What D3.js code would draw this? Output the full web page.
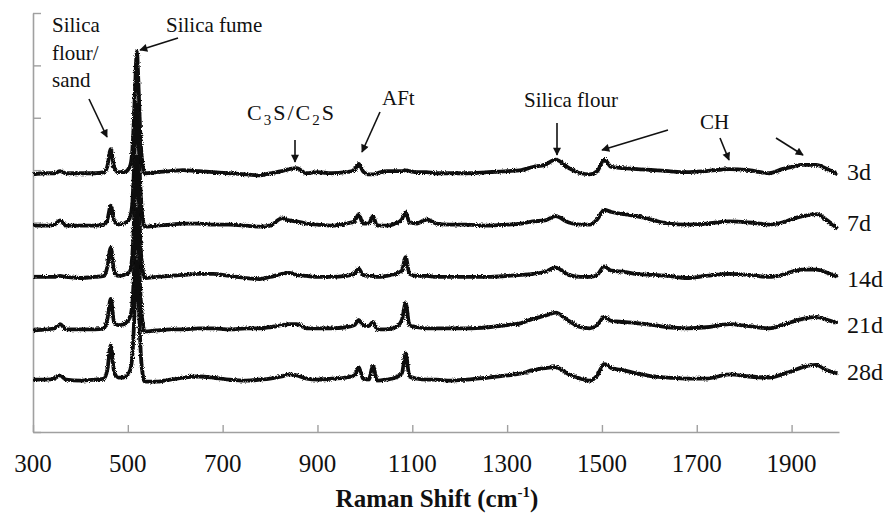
<!DOCTYPE html>
<html>
<head>
<meta charset="utf-8">
<script src="https://cdn.jsdelivr.net/npm/d3@7"></script>
<style>
  html, body { margin: 0; padding: 0; background: #fff; }
  svg { display: block; }
  text { font-family: "Liberation Serif", "Times New Roman", serif; fill: #111; }
</style>
</head>
<body>
<svg id="chart" width="892" height="513"></svg>
<script>
// ---- Data ----
const wavenumbers = [300,330,345,357,370,400,430,450,457,464,471,480,492,504,509,512,515,519,523,526,529,536,560,590,616,650,680,715,750,778,800,825,840,856,877,900,930,960,978,987,996,1008,1017,1026,1045,1065,1078,1086,1094,1110,1130,1150,1180,1215,1260,1300,1330,1354,1380,1402,1430,1455,1474,1490,1505,1520,1545,1573,1610,1640,1678,1720,1769,1810,1853,1880,1900,1923,1952,1975,1997];

const series3d = [-4,-3,-3,-1,-3,-3,-3,-2,4,20,3,-2,-2,3,16,40,75,113,75,38,14,-3,-2,-1,0,-1,-2,-3,-4,-5,-3,-1,1,2,-3,-2,-3,-2,0,6,-1,-4,-4,-3,-1,-1,-1,0,-1,-2,-2,-3,-3,-3,-2,-1,0,3,5,10,2,-3,-4,-1,10,3,2,1,0,-1,-2,-1,1,0,-3,1,3,5,5,1,-4];
const series7d = [-3,-3,-2,2,-3,-3,-3,-2,3,16,2,-2,-1,4,16,40,75,113,75,38,14,-4,-3,-2,-1,-1,-2,-2,-3,-4,-3,4,2,1,-1,-2,-3,-1,1,8,-1,-1,6,-3,-3,-1,3,10,0,-1,3,-1,-2,-2,-3,-2,-1,1,2,6,0,-2,-2,3,12,10,8,6,2,-1,-2,-1,1,0,-2,0,3,6,8,2,-6];
const series14d = [-2,-2,-2,-1,-2,-3,-2,-1,8,26,4,-1,0,3,16,40,75,113,75,38,14,-3,-2,-1,0,1,1,-1,-3,-4,-2,1,2,0,-1,-2,-2,-1,1,6,0,-1,-1,-2,-1,1,4,17,1,-1,-1,-2,-2,-2,-2,-1,0,1,3,7,0,-2,-2,0,8,4,3,1,0,-1,-3,-1,1,0,-2,0,3,5,5,2,-2];
const series21d = [-3,-2,-1,3,-2,-2,-2,-1,8,27,5,2,3,9,20,42,75,113,75,38,14,-4,-3,-2,-2,-1,-1,-2,-1,-1,0,2,3,3,-1,-1,-1,0,2,7,2,1,5,-2,-2,0,7,23,2,0,-1,-1,-1,-1,0,2,4,8,11,14,6,0,-1,2,10,6,5,4,2,0,-1,0,3,1,-1,2,5,8,10,7,4];
const series28d = [0,0,1,4,0,-1,0,1,10,33,8,2,2,8,20,42,75,113,75,38,14,-2,-2,0,2,3,2,0,-1,0,1,3,5,4,1,0,1,2,4,12,1,0,13,-1,0,2,6,25,3,1,0,0,-1,0,2,4,6,9,11,12,5,1,-1,4,15,11,9,6,3,2,1,1,5,3,2,5,8,12,14,9,6];

const seriesNames = ["3d","7d","14d","21d","28d"];
const seriesOffsets = [250, 200, 150, 100, 50];
const allSeries = [series3d, series7d, series14d, series21d, series28d];

const xTickValues = [300,500,700,900,1100,1300,1500,1700,1900];
const yTickValues = [0,50,100,150,200,250,300,350,400];
const xTitle = "Raman Shift (cm";

// ---- Layout ----
const svg = d3.select("#chart");
const plot = { left: 33, right: 839, top: 13, bottom: 432 };
const axisColor = "#a0a0a0";

const x = d3.scaleLinear().domain([300, 2000]).range([plot.left, plot.right]);
const y = d3.scaleLinear().domain([0, 400]).range([plot.bottom, plot.top]);

// roughness filter for spectra
const defs = svg.append("defs");
const f = defs.append("filter").attr("id", "rough")
  .attr("x", "-5%").attr("y", "-30%").attr("width", "110%").attr("height", "160%");
f.append("feTurbulence").attr("type", "fractalNoise").attr("baseFrequency", "1.1")
  .attr("numOctaves", 2).attr("seed", 4).attr("result", "noise");
f.append("feDisplacementMap").attr("in", "SourceGraphic").attr("in2", "noise")
  .attr("scale", 3.4).attr("xChannelSelector", "R").attr("yChannelSelector", "G");

defs.append("marker").attr("id", "arrow")
  .attr("viewBox", "0 0 10 10").attr("refX", 9).attr("refY", 5)
  .attr("markerWidth", 9).attr("markerHeight", 8)
  .attr("markerUnits", "userSpaceOnUse").attr("orient", "auto")
  .append("path").attr("d", "M0,0 L10,5 L0,10 Z").attr("fill", "#111");

// axes
const xAxis = d3.axisBottom(x).tickValues(xTickValues).tickSize(-7).tickFormat("").tickSizeOuter(0);
const gx = svg.append("g").attr("transform", `translate(0,${plot.bottom})`).call(xAxis);
gx.select(".domain").attr("stroke", axisColor).attr("stroke-width", 1.6);
gx.selectAll(".tick line").attr("stroke", axisColor).attr("stroke-width", 1.4);

const yAxis = d3.axisLeft(y).tickValues(yTickValues).tickSize(-8).tickFormat("").tickSizeOuter(0);
const gy = svg.append("g").attr("transform", `translate(${plot.left},0)`).call(yAxis);
gy.select(".domain").attr("stroke", axisColor).attr("stroke-width", 1.6);
gy.selectAll(".tick line").attr("stroke", axisColor).attr("stroke-width", 1.4);

// tick labels
svg.append("g").selectAll("text").data(xTickValues).join("text")
  .attr("x", d => x(d)).attr("y", 472)
  .attr("text-anchor", "middle").attr("font-size", 25)
  .text(d => d);

// x title
const tt = svg.append("text").attr("x", 437).attr("y", 507)
  .attr("text-anchor", "middle").attr("font-size", 25).attr("font-weight", "bold");
tt.append("tspan").text(xTitle);
tt.append("tspan").attr("font-size", 15).attr("dy", -10).text("-1");
tt.append("tspan").attr("dy", 10).text(")");

// spectra
const line = d3.line()
  .x((d, i) => x(wavenumbers[i]))
  .y(d => y(d))
  .curve(d3.curveMonotoneX);

allSeries.forEach((s, k) => {
  const vals = s.map(v => v + seriesOffsets[k]);
  svg.append("path").datum(vals)
    .attr("d", line)
    .attr("fill", "none")
    .attr("stroke", "#111")
    .attr("stroke-width", 3.8)
    .attr("stroke-linejoin", "round")
    .attr("filter", "url(#rough)");
});

// series labels
const labelBaselines = [180, 230.5, 287, 332.5, 380];
seriesNames.forEach((n, k) => {
  svg.append("text").attr("x", 847).attr("y", labelBaselines[k])
    .attr("font-size", 24).text(n);
});

// annotations
function label(txt, xx, yy, size) {
  svg.append("text").attr("x", xx).attr("y", yy).attr("font-size", size || 21).text(txt);
}
label("Silica", 52, 32);
label("flour/", 52, 60);
label("sand", 52, 87);
label("Silica fume", 166, 32);
label("AFt", 382, 105);
label("Silica flour", 524, 107);
label("CH", 700, 129);

const c = svg.append("text").attr("x", 247).attr("y", 120).attr("font-size", 22).attr("letter-spacing", 2);
c.append("tspan").text("C");
c.append("tspan").attr("font-size", 15).attr("dy", 5).text("3");
c.append("tspan").attr("dy", -5).text("S/C");
c.append("tspan").attr("font-size", 15).attr("dy", 5).text("2");
c.append("tspan").attr("dy", -5).text("S");

const arrows = [
  [89, 99, 107, 137],
  [178, 38, 140, 50],
  [295, 140, 295, 162],
  [380, 112, 362, 152],
  [557, 123, 557, 155],
  [668, 130, 602, 150],
  [720, 138, 729, 160],
  [776, 138, 803, 155]
];
svg.append("g").selectAll("line").data(arrows).join("line")
  .attr("x1", d => d[0]).attr("y1", d => d[1])
  .attr("x2", d => d[2]).attr("y2", d => d[3])
  .attr("stroke", "#111").attr("stroke-width", 1.6)
  .attr("marker-end", "url(#arrow)");
</script>
</body>
</html>
